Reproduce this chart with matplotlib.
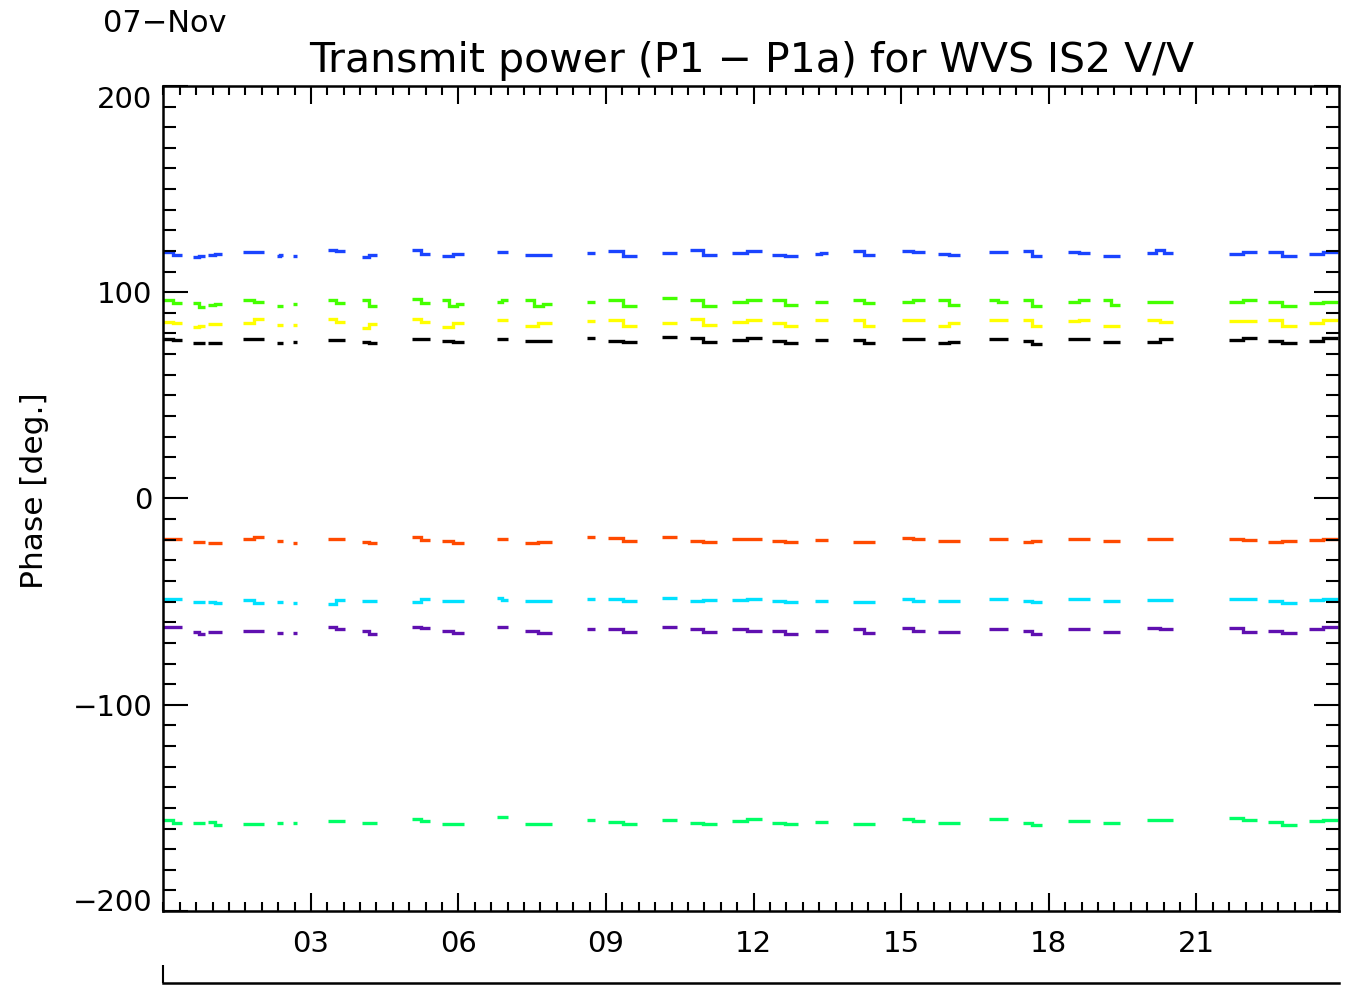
import numpy as np
import matplotlib
matplotlib.use("Agg")
import matplotlib.pyplot as plt
from matplotlib.ticker import MultipleLocator, FixedLocator, NullFormatter

# time windows (hours of 07-Nov) with valid data, shared by all traces
seg_start = [0.0, 0.6, 0.91, 1.62, 2.31, 2.64,
             3.35, 4.04, 5.05, 5.67, 6.78, 7.35,
             8.61, 9.04, 10.14, 10.71, 11.56, 12.37,
             13.25, 14.02, 15.01, 15.74,
             16.78, 17.47, 18.39, 19.1, 20.0,
             21.66, 22.45, 23.3]
seg_end = [0.38, 0.85, 1.2, 2.05, 2.43, 2.72,
           3.69, 4.34, 5.42, 6.11, 7.0, 7.9,
           8.78, 9.63, 10.44, 11.25, 12.17, 12.9,
           13.51, 14.46, 15.48, 16.19,
           17.17, 17.86, 18.84, 19.44, 20.52,
           22.23, 23.04, 23.87]

# phase levels per window (deg), one trace per channel
blue = [[119.5, 118], [117, 117.5], [118, 118.5], [119.5, 119.5], [117.5, 118], [117.5],
        [120.5, 120], [117, 118], [120.5, 118.5], [117.5, 118.5], [119.5], [118],
        [119], [120, 117.5], [119], [120.5, 118], [119, 120], [118, 117.5],
        [118.5, 119], [120, 118], [120, 119.5], [118.5, 118],
        [119.5], [120, 117.5], [119.5, 119], [117.5], [119, 120.5, 119],
        [118.5, 119.5], [119.5, 117.5], [118.5, 119.5]]
lime = [[96, 95], [95, 93], [94, 94.5], [96, 95.5], [93.5], [94.5],
        [96, 95], [96, 93.5], [96.5, 95], [96, 93.5, 94.5], [95.5, 96], [96, 93.5, 94.5],
        [95.5], [96, 93.5], [97], [96, 93.5], [95.5, 96], [96, 94],
        [95.5], [96, 95], [95.5, 96], [96, 94],
        [96, 95.5], [96, 93.5], [95.5, 96], [96, 94], [95.5],
        [95.5, 96], [95.5, 93.5], [95, 95.5]]
yellow = [[85.5, 85], [83.3, 83.5], [84.5], [85, 87], [84], [84],
          [87, 85.5], [82.5, 84.5], [87, 85.5], [83, 85], [86.5], [83.5, 85],
          [86], [86.5, 83.5], [85], [87, 84], [85.5, 86.5], [85, 83.5],
          [86.5], [86.5, 83.5], [86.5], [83.5, 85],
          [86.5], [86.5, 83.5], [86, 86.5], [83.5], [86.5, 85.5],
          [86], [86.5, 83.5], [85, 86.5]]
black = [[77.5, 77], [75.5, 75.5], [75.5], [77.5], [75.5], [76],
         [77], [76, 75.5], [77.5], [76.5, 76], [77.5], [76.5],
         [78], [76.5, 76], [78.5], [78, 76], [77, 78], [76.5, 75.5],
         [77], [77, 75.5], [77.5], [75.5, 76],
         [77.5], [76.5, 75], [77.5], [76], [76, 77.5],
         [77, 78], [76.5, 75.5], [76.5, 78]]
red = [[-19.5], [-21], [-21.5], [-19.5, -18.5], [-20.5], [-21.5],
       [-19.5], [-21, -21.5], [-18.5, -20], [-20.5, -21.5], [-19.5], [-21.5, -21],
       [-18.5], [-19, -20.5], [-18.5], [-20.5, -21], [-19.5, -19.5], [-20.5, -21],
       [-20], [-21], [-19, -19.5], [-20.5],
       [-19.5], [-21, -20.5], [-19.5], [-20.5], [-19.5],
       [-19.5, -20], [-21, -20.5], [-20, -19.5]]
cyan = [[-48.5], [-50], [-50, -50.5], [-49, -50.5], [-50], [-50.5],
        [-51, -49], [-49.5], [-50, -48.5], [-49.5], [-48, -49], [-49.5],
        [-48.5], [-48.5, -49.5], [-48], [-49.5, -49], [-49, -48.5], [-49.5, -50],
        [-49.5], [-50], [-48.5, -49.5], [-49.5],
        [-48.5], [-49.5, -50], [-48.5], [-49.5], [-49],
        [-48.5, -48.5], [-49.5, -50.5], [-49, -48.5]]
purple = [[-62.5], [-64.5, -65.5], [-64.5], [-64], [-65], [-65],
          [-62.5, -63.5], [-64, -65.5], [-62.5, -63], [-64, -65], [-62.5], [-64, -65],
          [-63.5], [-63.5, -64.5], [-62.5], [-63.5, -64.5], [-63.5, -64], [-64, -65.5],
          [-64], [-63.5, -65], [-63, -64], [-64.5],
          [-63.5], [-64, -65.5], [-63.5], [-64.5], [-63, -63.5],
          [-62.8, -64.5], [-64, -65], [-63.5, -62.5]]
spring = [[-156, -157.5], [-157.5], [-157, -158.5], [-158], [-157.5], [-157.5],
          [-156.5], [-157.5], [-155.5, -156.5], [-158], [-154.5], [-158],
          [-156], [-157, -158], [-156], [-157.5, -158], [-156.5, -155.5], [-157.5, -158],
          [-157], [-158], [-155.5, -156.5], [-157.5],
          [-155.5], [-157.5, -158.5], [-156.5], [-157.5], [-156],
          [-155, -156], [-157, -158.5], [-156.5, -156]]

traces = [
    (blue, "#1a44ff"),
    (lime, "#44ff00"),
    (yellow, "#ffff00"),
    (black, "#000000"),
    (red, "#ff4a00"),
    (cyan, "#00e1ff"),
    (purple, "#5f10b0"),
    (spring, "#00ff66"),
]

hour_ticks = [3, 6, 9, 12, 15, 18, 21]
hour_labels = ["03", "06", "09", "12", "15", "18", "21"]

plt.rcParams["font.family"] = "DejaVu Sans"

fig = plt.figure(figsize=(13.51, 10.01), dpi=100)
ax = fig.add_axes([0.1209, 0.0899, 0.8702, 0.8242])

for values, color in traces:
    for t0, t1, vals in zip(seg_start, seg_end, values):
        edges = np.linspace(t0, t1, len(vals) + 1)
        ax.stairs(vals, edges, baseline=None, color=color, lw=2.4)

ax.set_xlim(0, 23.9)
ax.set_ylim(-200, 200)

ax.xaxis.set_major_locator(FixedLocator(hour_ticks))
ax.set_xticklabels(hour_labels)
ax.xaxis.set_minor_locator(MultipleLocator(1 / 3))
ax.yaxis.set_major_locator(MultipleLocator(100))
ax.yaxis.set_minor_locator(MultipleLocator(10))

ax.tick_params(axis="both", which="both", direction="in", top=True, right=True,
               width=1.5, color="black", labelsize=21)
ax.tick_params(axis="x", which="major", length=13, pad=14)
ax.tick_params(axis="x", which="minor", length=6.5)
ax.tick_params(axis="y", which="major", length=18, pad=8)
ax.tick_params(axis="y", which="minor", length=9.5)
for sp in ax.spines.values():
    sp.set_linewidth(1.8)

# end labels sit inside the frame, as in the original
fig.canvas.draw()
for lab in ax.get_yticklabels():
    if lab.get_position()[1] == 200:
        lab.set_va("top")
    elif lab.get_position()[1] == -200:
        lab.set_va("baseline")

ax.set_ylabel("Phase [deg.]", fontsize=22.5)
ax.yaxis.set_label_coords(-0.097, 0.51)

# second (date) axis line under the plot
sec = ax.secondary_xaxis(-0.087)
sec.set_xticks([0])
sec.tick_params(direction="in", length=13, width=1.5, labelbottom=False)
sec.xaxis.set_minor_formatter(NullFormatter())
sec.spines["bottom"].set_linewidth(1.8)

fig.text(0.5567, 1 - 72 / 1001, "Transmit power (P1 \u2212 P1a) for WVS IS2 V/V",
         ha="center", va="baseline", fontsize=29.5)
fig.text(103 / 1351, 1 - 32 / 1001, "07\u2212Nov", ha="left", va="baseline", fontsize=22)

fig.savefig("out.png", dpi=100)
